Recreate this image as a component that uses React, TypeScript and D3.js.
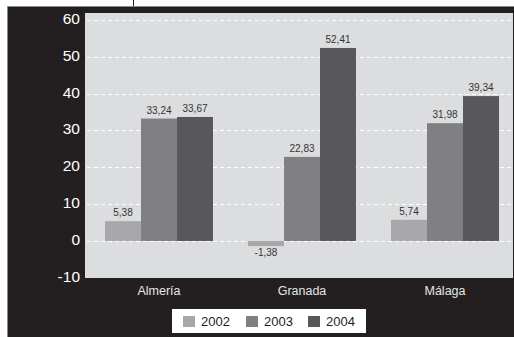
import React from "react";
import * as d3 from "d3";

const categories = ["Almería", "Granada", "Málaga"];
const years = ["2002", "2003", "2004"];
const values2002 = [5.38, -1.38, 5.74];
const values2003 = [33.24, 22.83, 31.98];
const values2004 = [33.67, 52.41, 39.34];
const yTicks = [-10, 0, 10, 20, 30, 40, 50, 60];
const colors = ["#a8a8aa", "#808083", "#58585a"];

const series = [values2002, values2003, values2004];

const fmt = (v: number) => v.toFixed(2).replace(".", ",");

export default function App() {
  const W = 514, H = 337;
  const plotL = 85, plotR = 513, plotT = 13, plotB = 278;
  const y = d3.scaleLinear().domain([-10, 60]).range([277.8, 20]);
  const x0 = d3.scaleBand<string>().domain(categories).range([87.5, 516.5]).paddingInner(35 / 143).paddingOuter(17.5 / 143);
  const x1 = d3.scaleBand<string>().domain(years).range([0, x0.bandwidth()]).padding(0);

  return (
    <div style={{ position: "absolute", left: 0, top: 0 }}>
      <svg width={W} height={H} style={{ display: "block" }}>
        <rect x={0} y={0} width={W} height={H} fill="#ffffff" />
        <line x1={133.5} x2={133.5} y1={0} y2={7} stroke="#231f20" strokeWidth={1} />
        <rect x={7} y={6} width={W - 7} height={H - 6} fill="#231f20" />
        <line x1={7.5} x2={7.5} y1={6} y2={H} stroke="#8a8a8a" strokeWidth={1} />
        <line x1={7} x2={W} y1={6.5} y2={6.5} stroke="#8a8a8a" strokeWidth={1} />
        <rect x={plotL} y={plotT} width={plotR - plotL} height={plotB - plotT} fill="#dcdddf" />
        {yTicks.filter(t => t > -10).map(t => (
          <line key={"g" + t} x1={87} x2={plotR} y1={Math.round(y(t)) + 0.5} y2={Math.round(y(t)) + 0.5}
            stroke="#ffffff" strokeWidth={1} strokeDasharray="4,3" />
        ))}
        {yTicks.map(t => (
          <text key={"t" + t} x={80} y={y(t) + 4} textAnchor="end" fill="#ffffff"
            fontFamily="'Liberation Sans', Arial, sans-serif" fontSize={15.5}>{t}</text>
        ))}
        {categories.map((c, i) => (
          <g key={c} transform={`translate(${x0(c)},0)`}>
            {years.map((yr, j) => {
              const v = series[j][i];
              const bx = x1(yr)!;
              const top = Math.min(y(v), y(0));
              const h = Math.abs(y(v) - y(0));
              return (
                <g key={yr}>
                  <rect x={bx} y={top} width={x1.bandwidth()} height={h} fill={colors[j]} />
                  <text x={bx + x1.bandwidth() / 2} y={v >= 0 ? y(v) - 5 : y(v) + 10}
                    textAnchor="middle" fill="#333333"
                    fontFamily="'Liberation Sans Narrow', 'Arial Narrow', sans-serif" fontSize={10}>{fmt(v)}</text>
                </g>
              );
            })}
          </g>
        ))}
        {categories.map(c => (
          <text key={"c" + c} x={x0(c)! + x0.bandwidth() / 2} y={295} textAnchor="middle" fill="#e6e6e6"
            fontFamily="'Liberation Sans', Arial, sans-serif" fontSize={12.5}>{c}</text>
        ))}
        <rect x={172} y={309} width={194} height={24} fill="#ffffff" />
        {years.map((yr, j) => {
          const lx = [183, 246, 308][j];
          return (
            <g key={"l" + yr}>
              <rect x={lx} y={316} width={12} height={11} fill={colors[j]} />
              <text x={lx + 18} y={325.5} fill="#231f20" fontFamily="'Liberation Sans', Arial, sans-serif" fontSize={13}>{yr}</text>
            </g>
          );
        })}
      </svg>
    </div>
  );
}
